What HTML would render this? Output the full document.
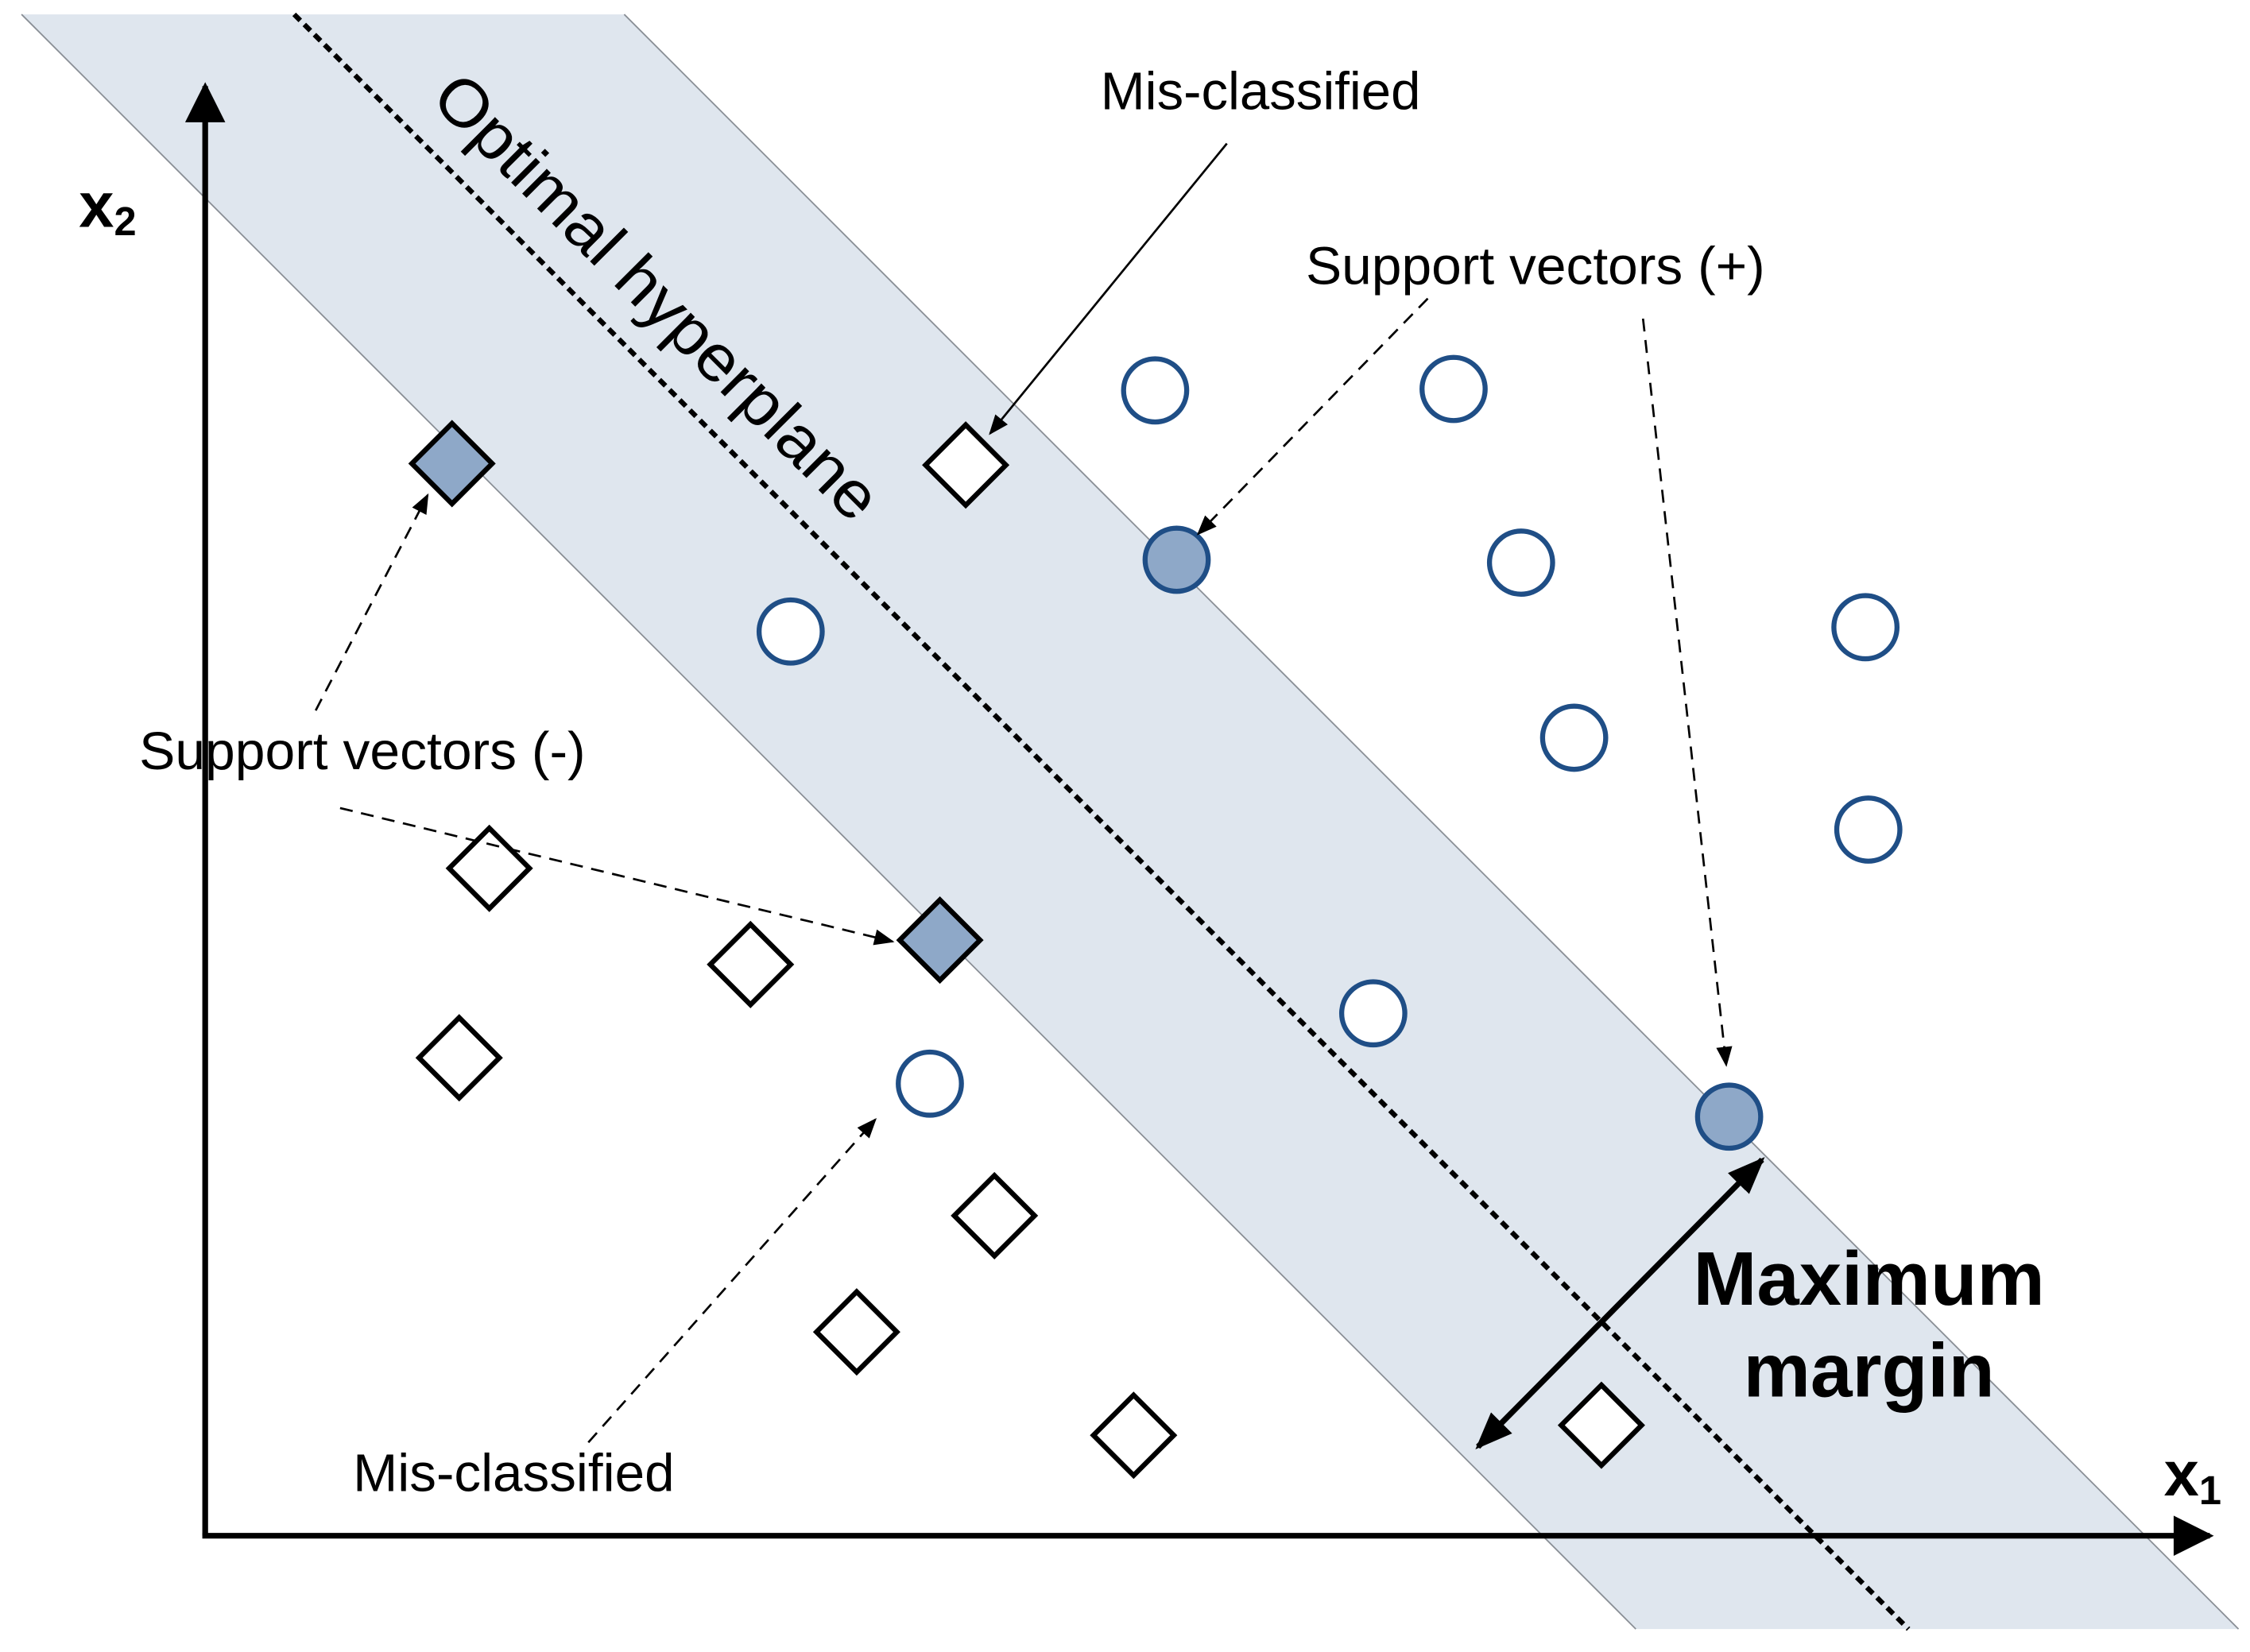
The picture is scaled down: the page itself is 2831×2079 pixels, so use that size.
<!DOCTYPE html>
<html><head><meta charset="utf-8"><style>
html,body{margin:0;padding:0;background:#fff;}
svg{display:block;}
text{font-family:"Liberation Sans Narrow","Liberation Sans",sans-serif;}
</style></head><body>
<svg width="2831" height="2079" viewBox="0 0 1568 1151" preserveAspectRatio="none" xmlns="http://www.w3.org/2000/svg">
<defs>
<marker id="ab" viewBox="0 0 10 10" refX="9" refY="5" markerWidth="26" markerHeight="26" orient="auto-start-reverse" markerUnits="userSpaceOnUse"><path d="M0,1 L10,5 L0,9 z" fill="#000"/></marker>
<marker id="ax" viewBox="0 0 10 10" refX="9" refY="5" markerWidth="36" markerHeight="28" orient="auto" markerUnits="userSpaceOnUse"><path d="M0,0 L10,5 L0,10 z" fill="#000"/></marker>
<marker id="as" viewBox="0 0 10 10" refX="9" refY="5" markerWidth="18" markerHeight="14" orient="auto" markerUnits="userSpaceOnUse"><path d="M0,1 L10,5 L0,9 z" fill="#000"/></marker>
</defs>
<rect width="1568" height="1151" fill="#fff"/>
<polygon points="15,10 435,10 1560,1135 1140,1135" fill="#dfe6ee"/>
<line x1="15" y1="10" x2="1140" y2="1135" stroke="#8a8f96" stroke-width="1"/>
<line x1="435" y1="10" x2="1560" y2="1135" stroke="#8a8f96" stroke-width="1"/>
<line x1="205" y1="10" x2="1330" y2="1135" stroke="#000" stroke-width="3.5" stroke-dasharray="6,4"/>
<line x1="143" y1="1070" x2="143" y2="60" stroke="#000" stroke-width="4" marker-end="url(#ax)"/>
<line x1="141" y1="1070" x2="1540" y2="1070" stroke="#000" stroke-width="4" marker-end="url(#ax)"/>
<text x="55" y="158" font-size="44" font-weight="bold">x<tspan font-size="28" dy="6">2</tspan></text>
<text x="1508" y="1042" font-size="44" font-weight="bold">x<tspan font-size="28" dy="6">1</tspan></text>
<g fill="#fff" stroke="#1f4e86" stroke-width="3.5">
<circle cx="805" cy="272" r="22"/><circle cx="1013" cy="271" r="22"/><circle cx="1060" cy="392" r="22"/>
<circle cx="1300" cy="437" r="22"/><circle cx="1097" cy="514" r="22"/><circle cx="1302" cy="578" r="22"/>
<circle cx="957" cy="706" r="22"/><circle cx="648" cy="755" r="22"/><circle cx="551" cy="440" r="22"/>
<circle cx="820" cy="390" r="22" fill="#8ea8c8"/><circle cx="1205" cy="778" r="22" fill="#8ea8c8"/>
</g>
<g fill="#fff" stroke="#000" stroke-width="3.5">
<path d="M673,296 L701,324 L673,352 L645,324 Z"/>
<path d="M341,577 L369,605 L341,633 L313,605 Z"/>
<path d="M523,644 L551,672 L523,700 L495,672 Z"/>
<path d="M320,709 L348,737 L320,765 L292,737 Z"/>
<path d="M693,819 L721,847 L693,875 L665,847 Z"/>
<path d="M597,900 L625,928 L597,956 L569,928 Z"/>
<path d="M790,972 L818,1000 L790,1028 L762,1000 Z"/>
<path d="M1116,965 L1144,993 L1116,1021 L1088,993 Z"/>
<path d="M315,295 L343,323 L315,351 L287,323 Z" fill="#8ea8c8"/>
<path d="M655,627 L683,655 L655,683 L627,655 Z" fill="#8ea8c8"/>
</g>
<text x="767" y="76" font-size="37" textLength="223" lengthAdjust="spacingAndGlyphs">Mis-classified</text>
<text x="910" y="198" font-size="37" textLength="320" lengthAdjust="spacingAndGlyphs">Support vectors (+)</text>
<text x="97" y="536" font-size="37" textLength="311" lengthAdjust="spacingAndGlyphs">Support vectors (-)</text>
<text x="246" y="1039" font-size="37" textLength="224" lengthAdjust="spacingAndGlyphs">Mis-classified</text>
<text x="1180" y="909" font-size="53" font-weight="bold" textLength="245" lengthAdjust="spacingAndGlyphs">Maximum</text>
<text x="1215" y="973" font-size="53" font-weight="bold" textLength="175" lengthAdjust="spacingAndGlyphs">margin</text>
<text x="0" y="0" font-size="46" textLength="418" lengthAdjust="spacingAndGlyphs" transform="translate(299,70) rotate(45)">Optimal hyperplane</text>
<line x1="855" y1="100" x2="690" y2="302" stroke="#000" stroke-width="1.5" marker-end="url(#as)"/>
<g stroke="#000" stroke-width="1.5" stroke-dasharray="9,6" fill="none">
<line x1="995" y1="208" x2="835" y2="372" marker-end="url(#as)"/>
<line x1="1145" y1="222" x2="1203" y2="742" marker-end="url(#as)"/>
<line x1="220" y1="495" x2="298" y2="345" marker-end="url(#as)"/>
<line x1="237" y1="563" x2="622" y2="656" marker-end="url(#as)"/>
<line x1="410" y1="1005" x2="610" y2="780" marker-end="url(#as)"/>
</g>
<line x1="1030" y1="1008" x2="1228" y2="808" stroke="#000" stroke-width="4" marker-start="url(#ab)" marker-end="url(#ab)"/>
</svg>
</body></html>
